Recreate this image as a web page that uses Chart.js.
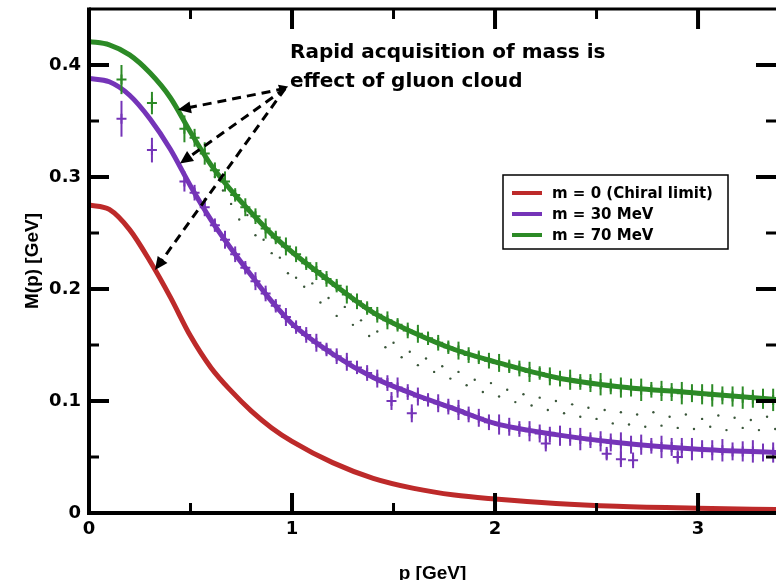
<!DOCTYPE html>
<html>
<head>
<meta charset="utf-8">
<script src="https://cdn.jsdelivr.net/npm/chart.js@4.4.1/dist/chart.umd.min.js"></script>
<style>
  html, body { margin: 0; padding: 0; background: #fff; }
</style>
</head>
<body>
<canvas id="massChart" width="776" height="580"></canvas>
<script>
// mass function curves, p in GeV
const curveP = [0, 0.1, 0.2, 0.3, 0.4, 0.5, 0.6, 0.7, 0.8, 0.9, 1.0, 1.2, 1.4, 1.6, 1.8, 2.0, 2.3, 2.6, 3.0, 3.4]
const chiralM = [0.275, 0.271, 0.253, 0.225, 0.193, 0.158, 0.130, 0.109, 0.091, 0.076, 0.064, 0.045, 0.031, 0.022, 0.016, 0.0125, 0.0085, 0.006, 0.0042, 0.003]
const m30M = [0.388, 0.385, 0.373, 0.352, 0.325, 0.292, 0.262, 0.236, 0.212, 0.189, 0.169, 0.142, 0.121, 0.106, 0.093, 0.080, 0.070, 0.063, 0.057, 0.054]
const m70M = [0.421, 0.418, 0.409, 0.393, 0.371, 0.340, 0.311, 0.288, 0.268, 0.249, 0.233, 0.205, 0.179, 0.161, 0.146, 0.135, 0.121, 0.113, 0.107, 0.101]

// lattice points (shared momenta)
const latP = [0.16, 0.31, 0.47, 0.52, 0.57, 0.62, 0.67, 0.72, 0.77, 0.82, 0.87, 0.92, 0.97, 1.02, 1.07, 1.12, 1.17, 1.22, 1.27, 1.32, 1.37, 1.42, 1.47, 1.52, 1.57, 1.62, 1.67, 1.72, 1.77, 1.82, 1.87, 1.92, 1.97, 2.02, 2.07, 2.12, 2.17, 2.22, 2.27, 2.32, 2.37, 2.42, 2.47, 2.52, 2.57, 2.62, 2.67, 2.72, 2.77, 2.82, 2.87, 2.92, 2.97, 3.02, 3.07, 3.12, 3.17, 3.22, 3.27, 3.32, 3.37]
const lat70M = [0.387, 0.366, 0.343, 0.335, 0.321, 0.306, 0.296, 0.284, 0.273, 0.265, 0.254, 0.246, 0.238, 0.231, 0.223, 0.216, 0.209, 0.203, 0.195, 0.189, 0.183, 0.177, 0.172, 0.168, 0.163, 0.160, 0.156, 0.152, 0.148, 0.145, 0.141, 0.139, 0.136, 0.134, 0.131, 0.129, 0.126, 0.125, 0.122, 0.120, 0.119, 0.117, 0.116, 0.115, 0.113, 0.112, 0.112, 0.110, 0.110, 0.109, 0.108, 0.107, 0.107, 0.106, 0.105, 0.105, 0.104, 0.103, 0.102, 0.102, 0.101]
const lat70Err = [0.013, 0.010, 0.012, 0.008, 0.010, 0.007, 0.009, 0.006, 0.008, 0.007, 0.009, 0.006, 0.008, 0.007, 0.006, 0.008, 0.007, 0.006, 0.008, 0.007, 0.006, 0.007, 0.008, 0.006, 0.007, 0.008, 0.006, 0.007, 0.006, 0.008, 0.007, 0.006, 0.007, 0.008, 0.006, 0.007, 0.009, 0.006, 0.008, 0.007, 0.009, 0.007, 0.008, 0.010, 0.007, 0.009, 0.008, 0.010, 0.007, 0.009, 0.008, 0.010, 0.008, 0.009, 0.010, 0.008, 0.009, 0.010, 0.008, 0.009, 0.010]
const lat30M = [0.352, 0.324, 0.296, 0.286, 0.273, 0.257, 0.244, 0.231, 0.219, 0.207, 0.196, 0.185, 0.175, 0.166, 0.159, 0.152, 0.146, 0.140, 0.135, 0.130, 0.125, 0.120, 0.116, 0.112, 0.108, 0.104, 0.101, 0.098, 0.095, 0.092, 0.088, 0.085, 0.081, 0.079, 0.077, 0.075, 0.073, 0.071, 0.070, 0.069, 0.068, 0.066, 0.065, 0.064, 0.063, 0.062, 0.061, 0.061, 0.060, 0.059, 0.059, 0.058, 0.057, 0.057, 0.056, 0.056, 0.055, 0.055, 0.055, 0.054, 0.054]
const lat30Err = [0.016, 0.011, 0.009, 0.007, 0.008, 0.006, 0.008, 0.007, 0.006, 0.008, 0.007, 0.006, 0.008, 0.006, 0.007, 0.008, 0.006, 0.007, 0.008, 0.006, 0.007, 0.008, 0.007, 0.009, 0.007, 0.008, 0.006, 0.008, 0.007, 0.009, 0.007, 0.008, 0.007, 0.009, 0.008, 0.007, 0.009, 0.008, 0.007, 0.009, 0.008, 0.010, 0.007, 0.009, 0.008, 0.010, 0.008, 0.009, 0.007, 0.010, 0.008, 0.009, 0.010, 0.008, 0.009, 0.010, 0.008, 0.009, 0.010, 0.008, 0.009]
// purple points that sit off the band
const out30P = [1.49, 1.59, 2.25, 2.55, 2.62, 2.68, 2.90]
const out30M = [0.100, 0.089, 0.062, 0.053, 0.048, 0.047, 0.050]
const out30Err = [0.008, 0.008, 0.007, 0.006, 0.007, 0.007, 0.006]

// faint dotted data between the bands
const dotP = [0.62, 0.66, 0.70, 0.74, 0.78, 0.82, 0.86, 0.90, 0.94, 0.98, 1.02, 1.06, 1.10, 1.14, 1.18, 1.22, 1.26, 1.30, 1.34, 1.38, 1.42, 1.46, 1.50, 1.54, 1.58, 1.62, 1.66, 1.70, 1.74, 1.78, 1.82, 1.86, 1.90, 1.94, 1.98, 2.02, 2.06, 2.10, 2.14, 2.18, 2.22, 2.26, 2.30, 2.34, 2.38, 2.42, 2.46, 2.50, 2.54, 2.58, 2.62, 2.66, 2.70, 2.74, 2.78, 2.82, 2.86, 2.90, 2.94, 2.98, 3.02, 3.06, 3.10, 3.14, 3.18, 3.22, 3.26, 3.30, 3.34, 3.38]
const dotM = [0.300, 0.288, 0.276, 0.262, 0.266, 0.248, 0.244, 0.232, 0.228, 0.214, 0.210, 0.202, 0.205, 0.188, 0.192, 0.176, 0.184, 0.168, 0.172, 0.158, 0.162, 0.148, 0.152, 0.139, 0.144, 0.132, 0.138, 0.126, 0.131, 0.120, 0.126, 0.114, 0.119, 0.108, 0.116, 0.104, 0.110, 0.099, 0.106, 0.096, 0.103, 0.092, 0.100, 0.089, 0.097, 0.086, 0.094, 0.084, 0.092, 0.080, 0.090, 0.079, 0.088, 0.077, 0.090, 0.078, 0.086, 0.076, 0.088, 0.075, 0.084, 0.077, 0.087, 0.074, 0.085, 0.076, 0.083, 0.074, 0.086, 0.075]

const xTicks = [0, 1, 2, 3]
const yTicks = [0, 0.1, 0.2, 0.3, 0.4]
const xMinor = [0.5, 1.5, 2.5]
const yMinor = [0.05, 0.15, 0.25, 0.35]

// annotation arrows in data units
const arrowFrom = [0.966, 0.379]
const arrowTips = [[0.438, 0.360], [0.448, 0.312], [0.325, 0.217]]
const noteLines = ['Rapid acquisition of mass is', 'effect of gluon cloud']

const RED = '#bd2a2a'
const PURPLE = '#7534b8'
const GREEN = '#2c8a26'

const pts = (xs, ys) => xs.map((v, i) => ({ x: v, y: ys[i] }))

const errorBars = {
  id: 'errorBars',
  afterDatasetsDraw (chart) {
    const { ctx, chartArea: a, scales: { x, y } } = chart
    ctx.save()
    ctx.beginPath()
    ctx.rect(a.left, a.top, a.right - a.left, a.bottom - a.top)
    ctx.clip()
    chart.data.datasets.forEach(ds => {
      if (!ds.errors) return
      ctx.strokeStyle = ds.borderColor
      ctx.lineWidth = 2
      ds.data.forEach((pt, i) => {
        const px = x.getPixelForValue(pt.x)
        ctx.beginPath()
        ctx.moveTo(px, y.getPixelForValue(pt.y - ds.errors[i]))
        ctx.lineTo(px, y.getPixelForValue(pt.y + ds.errors[i]))
        ctx.stroke()
      })
    })
    ctx.restore()
  }
}

const frame = {
  id: 'frame',
  afterDraw (chart) {
    const { ctx, chartArea: a, scales: { x, y } } = chart
    ctx.save()
    ctx.strokeStyle = '#000'
    ctx.lineCap = 'butt'
    const hTick = (v, len, w) => {
      const py = y.getPixelForValue(v)
      ctx.lineWidth = w
      ctx.beginPath()
      ctx.moveTo(a.left, py); ctx.lineTo(a.left + len, py)
      ctx.moveTo(a.right, py); ctx.lineTo(a.right - len, py)
      ctx.stroke()
    }
    const vTick = (v, len, w) => {
      const px = x.getPixelForValue(v)
      ctx.lineWidth = w
      ctx.beginPath()
      ctx.moveTo(px, a.bottom); ctx.lineTo(px, a.bottom - len)
      ctx.moveTo(px, a.top); ctx.lineTo(px, a.top + len)
      ctx.stroke()
    }
    yTicks.forEach(v => hTick(v, 20, 4))
    yMinor.forEach(v => hTick(v, 10, 3))
    xTicks.forEach(v => vTick(v, 20, 4))
    xMinor.forEach(v => vTick(v, 10, 3))

    ctx.lineWidth = 3
    ctx.beginPath()
    ctx.moveTo(a.left, a.top); ctx.lineTo(a.right, a.top)
    ctx.stroke()
    ctx.lineWidth = 4
    ctx.beginPath()
    ctx.moveTo(a.left, a.top - 1.5); ctx.lineTo(a.left, a.bottom)
    ctx.lineTo(a.right, a.bottom)
    ctx.stroke()

    // arrows
    const fx = x.getPixelForValue(arrowFrom[0])
    const fy = y.getPixelForValue(arrowFrom[1])
    const head = (tx, ty, ang, len, wid) => {
      ctx.beginPath()
      ctx.moveTo(tx, ty)
      ctx.lineTo(tx - len * Math.cos(ang) + wid * Math.sin(ang), ty - len * Math.sin(ang) - wid * Math.cos(ang))
      ctx.lineTo(tx - len * Math.cos(ang) - wid * Math.sin(ang), ty - len * Math.sin(ang) + wid * Math.cos(ang))
      ctx.closePath()
      ctx.fill()
    }
    ctx.fillStyle = '#000'
    arrowTips.forEach(t => {
      const tx = x.getPixelForValue(t[0])
      const ty = y.getPixelForValue(t[1])
      const ang = Math.atan2(ty - fy, tx - fx)
      ctx.setLineDash([9, 6])
      ctx.lineWidth = 3
      ctx.beginPath()
      ctx.moveTo(fx, fy)
      ctx.lineTo(tx - 10 * Math.cos(ang), ty - 10 * Math.sin(ang))
      ctx.stroke()
      ctx.setLineDash([])
      head(tx, ty, ang, 13, 6)
    })
    head(fx + 3, fy - 2, Math.atan2(-0.35, 1), 9, 5)

    // note text
    ctx.fillStyle = '#000'
    ctx.textAlign = 'left'
    ctx.textBaseline = 'alphabetic'
    ctx.font = 'bold 20px "DejaVu Sans"'
    ctx.fillText(noteLines[0], 290, 58, 323)
    ctx.fillText(noteLines[1], 290, 87, 236)

    // legend
    const lx = 503; const ly = 175; const lw = 225; const lh = 74
    ctx.fillStyle = '#fff'
    ctx.fillRect(lx, ly, lw, lh)
    ctx.lineWidth = 1.5
    ctx.strokeRect(lx, ly, lw, lh)
    ctx.font = 'bold 15px "DejaVu Sans"'
    ctx.textBaseline = 'middle'
    chart.data.datasets.slice(0, 3).forEach((ds, i) => {
      const ry = ly + 18 + i * 21
      ctx.strokeStyle = ds.borderColor
      ctx.lineWidth = 4
      ctx.beginPath()
      ctx.moveTo(lx + 9, ry); ctx.lineTo(lx + 39, ry)
      ctx.stroke()
      ctx.fillStyle = '#000'
      ctx.fillText(ds.label, lx + 49, ry + 1)
    })
    ctx.restore()
  }
}

const lineSet = (label, ys, color) => ({
  label,
  data: pts(curveP, ys),
  showLine: true,
  borderColor: color,
  backgroundColor: color,
  borderWidth: 5,
  pointRadius: 0,
  cubicInterpolationMode: 'monotone'
})

const latticeSet = (label, xs, ys, errs, color) => ({
  label,
  data: pts(xs, ys),
  errors: errs,
  showLine: false,
  borderColor: color,
  backgroundColor: color,
  pointStyle: 'cross',
  pointRadius: 5,
  borderWidth: 2
})

const noPad = s => {
  s.paddingTop = 0
  s.paddingBottom = 0
  s.paddingLeft = 0
  s.paddingRight = 0
}

const canvas = document.getElementById('massChart').getContext('2d')
window.massChart = new Chart(canvas, {
  type: 'scatter',
  data: {
    datasets: [
      lineSet('m = 0 (Chiral limit)', chiralM, RED),
      lineSet('m = 30 MeV', m30M, PURPLE),
      lineSet('m = 70 MeV', m70M, GREEN),
      latticeSet('lattice 30', latP, lat30M, lat30Err, PURPLE),
      latticeSet('lattice 30 off', out30P, out30M, out30Err, PURPLE),
      latticeSet('lattice 70', latP, lat70M, lat70Err, GREEN),
      {
        label: 'dots',
        data: pts(dotP, dotM),
        pointRadius: 1.2,
        borderWidth: 0,
        backgroundColor: '#3a563a'
      }
    ]
  },
  options: {
    responsive: false,
    animation: false,
    devicePixelRatio: 1,
    layout: { autoPadding: false, padding: { top: 9, right: 0, bottom: 0, left: 0 } },
    plugins: { legend: { display: false }, tooltip: { enabled: false } },
    scales: {
      x: {
        type: 'linear',
        min: 0,
        max: 3.384,
        afterFit: s => { s.height = 67; noPad(s) },
        afterBuildTicks: s => { s.ticks = xTicks.map(v => ({ value: v })) },
        grid: { display: false, drawTicks: false },
        border: { display: false },
        ticks: {
          padding: 6,
          color: '#000',
          font: { family: '"DejaVu Sans"', size: 18, weight: 'bold' },
          callback: v => String(v)
        },
        title: {
          display: true,
          text: 'p [GeV]',
          color: '#000',
          font: { family: 'Arial, "Liberation Sans"', size: 19, weight: 'bold' },
          padding: { top: 0, bottom: -5 }
        }
      },
      y: {
        type: 'linear',
        min: 0,
        max: 0.45,
        afterFit: s => { s.width = 89; noPad(s) },
        afterBuildTicks: s => { s.ticks = yTicks.map(v => ({ value: v })) },
        grid: { display: false, drawTicks: false },
        border: { display: false },
        ticks: {
          padding: 8,
          color: '#000',
          font: { family: '"DejaVu Sans"', size: 18, weight: 'bold' },
          callback: v => (v === 0 ? '0' : v.toFixed(1))
        },
        title: {
          display: true,
          text: 'M(p) [GeV]',
          color: '#000',
          font: { family: 'Arial, "Liberation Sans"', size: 19, weight: 'bold' },
          padding: { top: 21, bottom: 0 }
        }
      }
    }
  },
  plugins: [errorBars, frame]
})
</script>
</body>
</html>
